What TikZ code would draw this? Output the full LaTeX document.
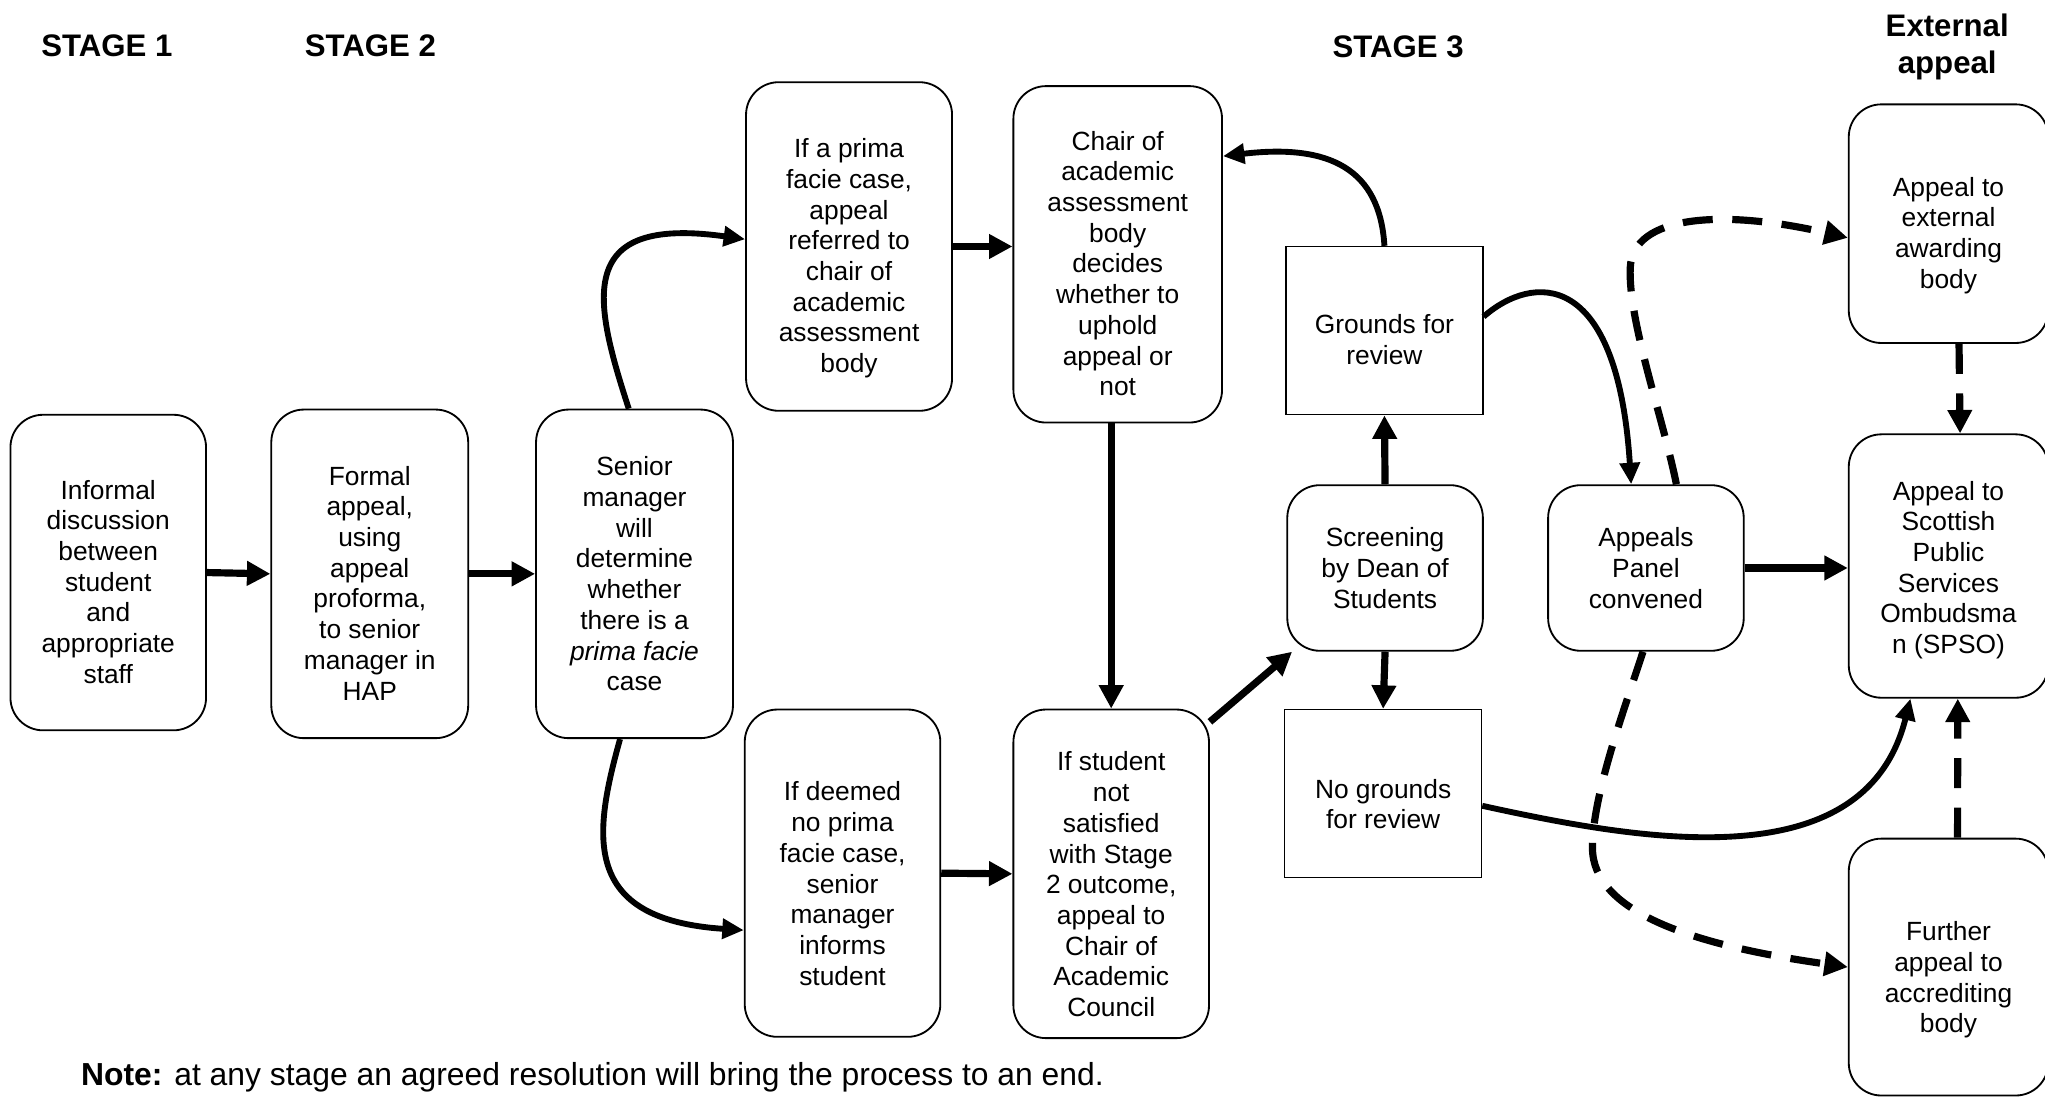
\documentclass[tikz,border=0pt]{standalone}
\usepackage{fontspec}
\setmainfont{Liberation Sans}
\usetikzlibrary{arrows.meta}
\newcommand{\boxfont}{\fontsize{11.5}{13.4}\selectfont}
\newcommand{\headfont}{\fontsize{13.6}{15.9}\selectfont\bfseries}
% pushes the first line of a box down
\newcommand{\drop}[1][16.4pt]{\rule{0pt}{#1}}

\begin{document}
\begin{tikzpicture}[x=0.02cm,y=-0.02cm,
        box/.style={draw,rounded corners=0.5cm,line width=0.8pt,align=center,inner sep=0pt,font=\boxfont},
        plainbox/.style={draw,line width=0.6pt,align=center,inner sep=0pt,font=\boxfont},
        link/.style={line width=0.11cm,-{Triangle[length=0.36cm,width=0.36cm]}},
        curvelink/.style={line width=0.09cm,-{Triangle[length=0.33cm,width=0.3cm]}},
        dlink/.style={link,dash pattern=on 0.46cm off 0.3cm}]
    \useasboundingbox (0,0) rectangle (1568,841);

    \node[font=\headfont] (stage1) at (82,35) {STAGE 1};
    \node[font=\headfont] (stage2) at (284,35) {STAGE 2};
    \node[font=\headfont] (stage3) at (1072,36) {STAGE 3};
    \node[font=\headfont,align=center] (extstage) at (1493,36) {External\\appeal};

    \node[box,minimum width=3cm,minimum height=4.84cm] (informal) at (83,439)
        {\drop Informal\\discussion\\between\\student\\and\\appropriate\\staff};
    \node[box,minimum width=3.02cm,minimum height=5.04cm] (formal) at (283.5,440)
        {\drop Formal\\appeal,\\using\\appeal\\proforma,\\to senior\\manager in\\HAP};
    \node[box,minimum width=3.02cm,minimum height=5.04cm] (senior) at (486.5,440)
        {Senior\\manager\\will\\determine\\whether\\there is a\\\textit{prima facie}\\case};
    \node[box,minimum width=3.16cm,minimum height=5.04cm] (referred) at (651,189)
        {\drop[18.6pt]If a prima\\facie case,\\appeal\\referred to\\chair of\\academic\\assessment\\body};
    \node[box,minimum width=3cm,minimum height=5.02cm] (deemed) at (646,669.5)
        {\drop[17.5pt]If deemed\\no prima\\facie case,\\senior\\manager\\informs\\student};
    \node[box,minimum width=3.2cm,minimum height=5.16cm] (chair) at (857,195)
        {\drop Chair of\\academic\\assessment\\body\\decides\\whether to\\uphold\\appeal or\\not};
    \node[box,minimum width=3cm,minimum height=5.04cm] (decision) at (852,670)
        {\drop[17.5pt]If student\\not\\satisfied\\with Stage\\2 outcome,\\appeal to\\Chair of\\Academic\\Council};
    \node[plainbox,minimum width=3.02cm,minimum height=2.58cm] (grounds) at (1061.5,253.5)
        {\drop Grounds for\\review};
    \node[box,minimum width=3cm,minimum height=2.54cm] (screening) at (1062,435.5)
        {Screening\\by Dean of\\Students};
    \node[plainbox,minimum width=3.02cm,minimum height=2.58cm] (nogrounds) at (1060.5,608.5)
        {\drop[17.5pt]No grounds\\for review};
    \node[box,minimum width=3cm,minimum height=2.54cm] (panel) at (1262,435.5)
        {Appeals\\Panel\\convened};
    \node[box,minimum width=3.06cm,minimum height=3.66cm] (external) at (1494,171.5)
        {\drop[18.6pt]Appeal to\\external\\awarding\\body};
    \node[box,minimum width=3.06cm,minimum height=4.04cm] (spso) at (1494,434)
        {\drop[11.8pt]Appeal to\\Scottish\\Public\\Services\\Ombudsma\\n (SPSO)};
    \node[box,minimum width=3.06cm,minimum height=3.94cm] (accred) at (1494,741.5)
        {\drop[19.7pt]Further\\appeal to\\accrediting\\body};

    \node[anchor=west,font=\fontsize{13.9}{16}\selectfont] (note) at (56,826)
        {\textbf{Note:} at any stage an agreed resolution will bring the process to an end.};

    \draw[link] (informal.east) -- (formal.west);
    \draw[link] (formal.east) -- (senior.west);
    \draw[curvelink] (senior.92) .. controls (455,230) and (440,165) .. (referred.176);
    \draw[curvelink] (senior.265) .. controls (455,640) and (445,705) .. (deemed.210);
    \draw[link] (referred.east) -- (referred.east -| chair.west);
    \draw[link] (deemed.east) -- (decision.west);
    \draw[link] (decision.north |- chair.south) -- (decision.north);
    \draw[link] (decision.57) -- (screening.222);
    \draw[link] (screening.north) -- (grounds.south);
    \draw[link] (screening.south) -- (nogrounds.north);
    \draw[curvelink] (grounds.north) .. controls (1058,130) and (1020,110) .. (chair.43);
    \draw[curvelink] (grounds.8) .. controls (1175,210) and (1240,205) .. (panel.100);
    \draw[link] (panel.east) -- (panel.east -| spso.west);
    \draw[curvelink] (nogrounds.-7) .. controls (1260,645) and (1430,675) .. (spso.254);
    \draw[dlink] (panel.70) .. controls (1275,320) and (1248,245) .. (1250,205)
        .. controls (1252,165) and (1320,160) .. (external.188);
    \draw[dlink] (panel.268) .. controls (1245,545) and (1221,610) .. (1221,650)
        .. controls (1221,700) and (1300,725) .. (accred.west);
    \draw[dlink] (external.275) -- (spso.85);
    \draw[dlink] (accred.86) -- (spso.274);
\end{tikzpicture}
\end{document}
